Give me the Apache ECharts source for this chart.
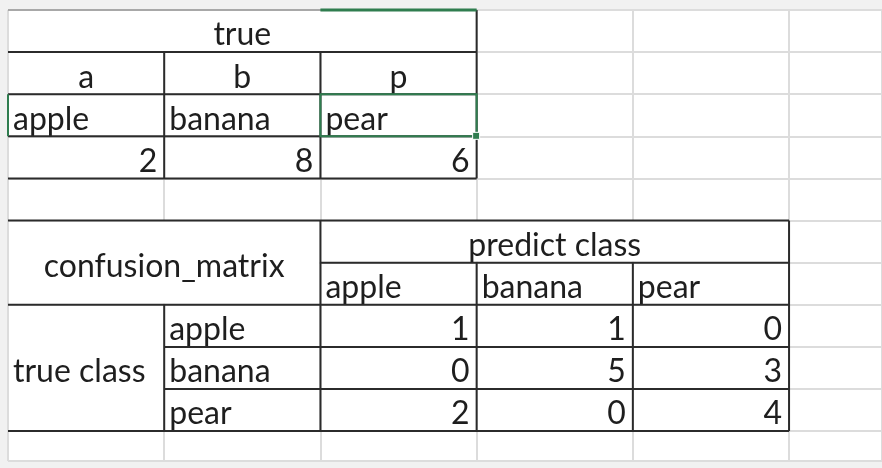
<!DOCTYPE html>
<html>
<head>
<meta charset="utf-8">
<script src="https://cdn.jsdelivr.net/npm/echarts@6/dist/echarts.min.js"></script>
<style>
  html, body { margin: 0; padding: 0; background: #f1f1f1; }
  #main { width: 882px; height: 468px; }
</style>
</head>
<body>
<div id="main"></div>
<script>
// sheet content
const trueTitle = 'true';
const letters = ['a', 'b', 'p'];
const fruits = ['apple', 'banana', 'pear'];
const trueCounts = [2, 8, 6];
const matrixTitle = 'confusion_matrix';
const predictTitle = 'predict class';
const trueClassTitle = 'true class';
const confusion = [
    [1, 1, 0],
    [0, 5, 3],
    [2, 0, 4]
];

// cells in sheet units: column/row ranges
let cells = [];
function cell(c0, c1, r0, r1, text, align, merged) {
    cells.push({ c0, c1, r0, r1, text: String(text), align, merged: !!merged });
}
cell(0, 3, 0, 1, trueTitle, 'center', true);
letters.forEach((t, i) => cell(i, i + 1, 1, 2, t, 'center'));
fruits.forEach((t, i) => cell(i, i + 1, 2, 3, t, 'left'));
trueCounts.forEach((v, i) => cell(i, i + 1, 3, 4, v, 'right'));
cell(0, 2, 5, 7, matrixTitle, 'center', true);
cell(2, 5, 5, 6, predictTitle, 'center', true);
fruits.forEach((t, i) => cell(i + 2, i + 3, 6, 7, t, 'left'));
cell(0, 1, 7, 10, trueClassTitle, 'left', true);
fruits.forEach((t, i) => cell(1, 2, i + 7, i + 8, t, 'left'));
confusion.forEach((row, r) => row.forEach((v, c) => cell(c + 2, c + 3, r + 7, r + 8, v, 'right')));

// borders: [c0, r0, c1, r1, kind]
let borders = [];
[1, 2, 3, 4].forEach(r => borders.push([0, r, 3, r, 'dark']));
borders.push([0, 0, 3, 0, 'mid']);
borders.push([1, 1, 1, 4, 'dark'], [2, 1, 2, 4, 'dark'], [3, 0, 3, 4, 'dark']);
borders.push([0, 5, 5, 5, 'dark'], [2, 6, 5, 6, 'dark'], [0, 7, 5, 7, 'dark'],
    [1, 8, 5, 8, 'dark'], [1, 9, 5, 9, 'dark'], [0, 10, 5, 10, 'dark']);
borders.push([1, 7, 1, 10, 'dark'], [2, 5, 2, 10, 'dark'], [3, 6, 3, 10, 'dark'],
    [4, 6, 4, 10, 'dark'], [5, 5, 5, 10, 'dark']);
// selected cell C3 and its header marks
const selected = [2, 2];

const green = '#2f7d4f';
const font = 'Lato, "Noto Sans", sans-serif';

let myChart = echarts.init(document.getElementById('main'));

myChart.setOption({
    animation: false,
    backgroundColor: '#f1f1f1',
    grid: {
        left: 8, right: 0, top: 10, bottom: 7,
        show: true, backgroundColor: '#fff', borderWidth: 0
    },
    xAxis: {
        type: 'value', min: 0, max: 5.595, interval: 1,
        axisLine: { show: false }, axisTick: { show: false }, axisLabel: { show: false },
        splitLine: { lineStyle: { color: '#dcdcdc', width: 2 } }
    },
    yAxis: {
        type: 'value', min: 0, max: 10.71, interval: 1, inverse: true,
        axisLine: { show: false }, axisTick: { show: false }, axisLabel: { show: false },
        splitLine: { lineStyle: { color: '#dcdcdc', width: 2 } }
    },
    series: [
        {
            type: 'custom',
            z: 2,
            data: cells.map(c => [c.c0, c.r0, c.c1, c.r1]),
            renderItem: function (params, api) {
                let c = cells[params.dataIndex];
                let p0 = api.coord([c.c0, c.r0]);
                let p1 = api.coord([c.c1, c.r1]);
                let children = [];
                if (c.merged) {
                    children.push({
                        type: 'rect',
                        shape: { x: p0[0] + 1, y: p0[1] + 1, width: p1[0] - p0[0] - 2, height: p1[1] - p0[1] - 2 },
                        style: { fill: '#fff' }
                    });
                }
                let tx = c.align === 'left' ? p0[0] + 5 : c.align === 'right' ? p1[0] - 7 : (p0[0] + p1[0]) / 2;
                let ty = c.merged && c.r1 - c.r0 > 1 ? (p0[1] + p1[1]) / 2 + 4 : p1[1] - 17;
                children.push({
                    type: 'text',
                    style: {
                        x: tx, y: ty, text: c.text, align: c.align, verticalAlign: 'middle',
                        font: '32px ' + font, fill: '#1e1e1e'
                    }
                });
                return { type: 'group', children: children };
            }
        },
        {
            type: 'custom',
            z: 3,
            data: borders.map(b => b.slice(0, 4)),
            renderItem: function (params, api) {
                let b = borders[params.dataIndex];
                let p0 = api.coord([b[0], b[1]]);
                let p1 = api.coord([b[2], b[3]]);
                return {
                    type: 'line',
                    shape: { x1: p0[0], y1: p0[1], x2: p1[0], y2: p1[1] },
                    style: { stroke: b[4] === 'dark' ? '#2b2b2b' : '#a8a8a8', lineWidth: 2 }
                };
            }
        },
        {
            type: 'custom',
            z: 4,
            data: [selected],
            renderItem: function (params, api) {
                let c = api.value(0), r = api.value(1);
                let p0 = api.coord([c, r]);
                let p1 = api.coord([c + 1, r + 1]);
                let top0 = api.coord([c, 0]);
                let top1 = api.coord([c + 1, 0]);
                let left0 = api.coord([0, r]);
                let left1 = api.coord([0, r + 1]);
                return {
                    type: 'group',
                    children: [
                        {
                            type: 'rect',
                            shape: { x: p0[0], y: p0[1], width: p1[0] - p0[0], height: p1[1] - p0[1] },
                            style: { fill: null, stroke: green, lineWidth: 2 }
                        },
                        {
                            type: 'rect',
                            shape: { x: p1[0] - 4, y: p1[1] - 4, width: 7, height: 7 },
                            style: { fill: green, stroke: '#fff', lineWidth: 1 }
                        },
                        {
                            type: 'line',
                            shape: { x1: top0[0], y1: top0[1], x2: top1[0], y2: top1[1] },
                            style: { stroke: green, lineWidth: 3 }
                        },
                        {
                            type: 'line',
                            shape: { x1: left0[0], y1: left0[1], x2: left1[0], y2: left1[1] },
                            style: { stroke: green, lineWidth: 2 }
                        }
                    ]
                };
            }
        }
    ]
});
</script>
</body>
</html>
